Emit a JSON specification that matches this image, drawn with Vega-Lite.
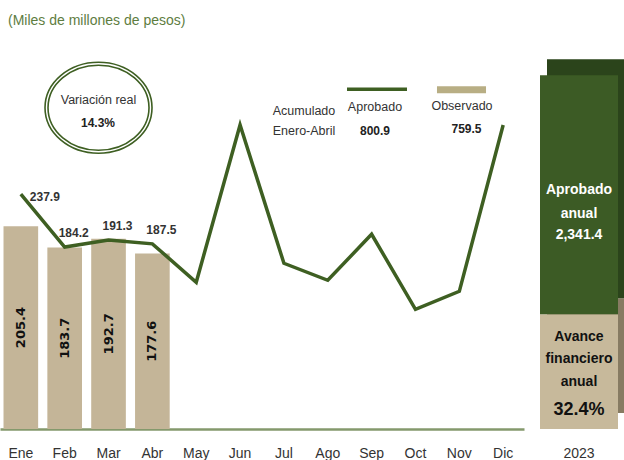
{
  "$schema": "https://vega.github.io/schema/vega-lite/v6.json",
  "padding": {"left": 0, "top": 14, "right": 0, "bottom": 0},
  "background": "white",
  "config": {
    "view": {"stroke": null},
    "font": "Liberation Sans",
    "text": {"font": "Liberation Sans"},
    "axis": {"labelFont": "Liberation Sans"}
  },
  "title": {
    "text": "(Miles de millones de pesos)",
    "anchor": "start",
    "fontSize": 14,
    "fontWeight": "normal",
    "font": "Liberation Sans",
    "color": "#5e7d3f",
    "offset": 3,
    "dx": 8
  },
  "datasets": {
    "meses": [
      {"mes": "Ene", "aprobado": 237.9, "observado": 205.4},
      {"mes": "Feb", "aprobado": 184.2, "observado": 183.7},
      {"mes": "Mar", "aprobado": 191.3, "observado": 192.7},
      {"mes": "Abr", "aprobado": 187.5, "observado": 177.6},
      {"mes": "May", "aprobado": 148.6, "observado": null},
      {"mes": "Jun", "aprobado": 307.9, "observado": null},
      {"mes": "Jul", "aprobado": 167.8, "observado": null},
      {"mes": "Ago", "aprobado": 150.6, "observado": null},
      {"mes": "Sep", "aprobado": 197.2, "observado": null},
      {"mes": "Oct", "aprobado": 121.2, "observado": null},
      {"mes": "Nov", "aprobado": 139.4, "observado": null},
      {"mes": "Dic", "aprobado": 307.8, "observado": null}
    ],
    "anotaciones": [
      {"texto": "Variación real", "tipo": "etiqueta", "x": 1.771, "y": 332.9},
      {"texto": "14.3%", "tipo": "valor", "x": 1.759, "y": 310.1},
      {"texto": "Acumulado", "tipo": "etiqueta", "x": 6.457, "y": 321.7},
      {"texto": "Enero-Abril", "tipo": "etiqueta", "x": 6.457, "y": 302.0},
      {"texto": "Aprobado", "tipo": "etiqueta", "x": 8.076, "y": 326.3},
      {"texto": "800.9", "tipo": "valor", "x": 8.076, "y": 301.5},
      {"texto": "Observado", "tipo": "etiqueta", "x": 10.06, "y": 326.8},
      {"texto": "759.5", "tipo": "valor", "x": 10.163, "y": 303.5}
    ],
    "elipse": [{"x": 1.771, "y": 325.3}],
    "leyenda": [
      {"serie": "Aprobado", "x1": 7.438, "x2": 8.806, "y": 344.0},
      {"serie": "Observado", "x1": 9.49, "x2": 10.608, "y": 343.5}
    ],
    "anual": [
      {"anio": "2023", "tipo": "Avance", "valor": 759.5},
      {"anio": "2023", "tipo": "Resto", "valor": 1581.9}
    ],
    "textos_anual": [
      {"anio": "2023", "segmento": "aprobado", "texto": "Aprobado", "y": 1583.5},
      {"anio": "2023", "segmento": "aprobado", "texto": "anual", "y": 1424.6},
      {"anio": "2023", "segmento": "aprobado", "texto": "2,341.4", "y": 1282.3},
      {"anio": "2023", "segmento": "avance", "texto": "Avance", "y": 607.0},
      {"anio": "2023", "segmento": "avance", "texto": "financiero", "y": 461.4},
      {"anio": "2023", "segmento": "avance", "texto": "anual", "y": 309.2},
      {"anio": "2023", "segmento": "porcentaje", "texto": "32.4%", "y": 123.8}
    ]
  },
  "hconcat": [
    {
      "width": 524,
      "height": 398,
      "resolve": {"scale": {"x": "independent", "y": "independent", "color": "independent", "strokeWidth": "independent"}, "axis": {"x": "independent", "y": "independent"}},
      "layer": [
        {
          "data": {"name": "meses"},
          "transform": [{"filter": "isValid(datum.observado)"}],
          "mark": {"type": "bar", "color": "#c4b598"},
          "encoding": {
            "x": {"field": "mes", "type": "nominal", "sort": null,
                  "scale": {"type": "band", "domain": ["Ene","Feb","Mar","Abr","May","Jun","Jul","Ago","Sep","Oct","Nov","Dic"], "paddingInner": 0.21, "paddingOuter": 0.08},
                  "axis": {"title": null, "labelAngle": 0, "labelFontSize": 14, "labelColor": "#333333", "ticks": false, "tickSize": 0, "labelPadding": 17, "domainColor": "#84996c", "domainWidth": 2.5, "grid": false}},
            "y": {"field": "observado", "type": "quantitative", "scale": {"domain": [0, 403], "nice": false}, "axis": null}
          }
        },
        {
          "data": {"name": "meses"},
          "mark": {"type": "line", "color": "#3e5f22", "strokeWidth": 3.5, "strokeJoin": "miter"},
          "encoding": {
            "x": {"field": "mes", "type": "nominal", "sort": null,
                  "scale": {"type": "band", "domain": ["Ene","Feb","Mar","Abr","May","Jun","Jul","Ago","Sep","Oct","Nov","Dic"], "paddingInner": 0.21, "paddingOuter": 0.08}, "axis": null},
            "y": {"field": "aprobado", "type": "quantitative", "scale": {"domain": [0, 403], "nice": false}, "axis": null}
          }
        },
        {
          "data": {"name": "meses"},
          "transform": [{"filter": "datum.mes == 'Ene'"}],
          "mark": {"type": "text", "align": "left", "baseline": "middle", "dx": 9, "dy": 3, "fontSize": 12, "fontWeight": "bold", "color": "#333333"},
          "encoding": {
            "x": {"field": "mes", "type": "nominal", "sort": null,
                  "scale": {"type": "band", "domain": ["Ene","Feb","Mar","Abr","May","Jun","Jul","Ago","Sep","Oct","Nov","Dic"], "paddingInner": 0.21, "paddingOuter": 0.08}, "axis": null},
            "y": {"field": "aprobado", "type": "quantitative", "scale": {"domain": [0, 403], "nice": false}, "axis": null},
            "text": {"field": "aprobado", "type": "quantitative", "format": ".1f"}
          }
        },
        {
          "data": {"name": "meses"},
          "transform": [{"filter": "datum.mes == 'Feb' || datum.mes == 'Mar' || datum.mes == 'Abr'"}],
          "mark": {"type": "text", "align": "center", "baseline": "middle", "dx": 9, "dy": -14, "fontSize": 12, "fontWeight": "bold", "color": "#333333"},
          "encoding": {
            "x": {"field": "mes", "type": "nominal", "sort": null,
                  "scale": {"type": "band", "domain": ["Ene","Feb","Mar","Abr","May","Jun","Jul","Ago","Sep","Oct","Nov","Dic"], "paddingInner": 0.21, "paddingOuter": 0.08}, "axis": null},
            "y": {"field": "aprobado", "type": "quantitative", "scale": {"domain": [0, 403], "nice": false}, "axis": null},
            "text": {"field": "aprobado", "type": "quantitative", "format": ".1f"}
          }
        },
        {
          "data": {"name": "meses"},
          "transform": [{"filter": "isValid(datum.observado)"}],
          "mark": {"type": "text", "angle": 270, "align": "center", "baseline": "middle", "fontSize": 13, "fontWeight": "bold", "font": "DejaVu Sans", "color": "#111111"},
          "encoding": {
            "x": {"field": "mes", "type": "nominal", "sort": null,
                  "scale": {"type": "band", "domain": ["Ene","Feb","Mar","Abr","May","Jun","Jul","Ago","Sep","Oct","Nov","Dic"], "paddingInner": 0.21, "paddingOuter": 0.08}, "axis": null},
            "y": {"field": "observado", "type": "quantitative", "scale": {"domain": [0, 806], "nice": false}, "axis": null},
            "text": {"field": "observado", "type": "quantitative", "format": ".1f"}
          }
        },
        {
          "data": {"name": "elipse"},
          "mark": {"type": "point", "shape": "M-1,0A1,0.85,0,1,0,1,0A1,0.85,0,1,0,-1,0Z", "size": 11449, "filled": false, "color": "#3e5f22", "strokeWidth": 1.6, "opacity": 1},
          "encoding": {
            "x": {"field": "x", "type": "quantitative", "scale": {"domain": [-0.4755, 11.4743], "nice": false, "zero": false}, "axis": null},
            "y": {"field": "y", "type": "quantitative", "scale": {"domain": [0, 403], "nice": false}, "axis": null}
          }
        },
        {
          "data": {"name": "elipse"},
          "mark": {"type": "point", "shape": "M-1,0A1,0.842,0,1,0,1,0A1,0.842,0,1,0,-1,0Z", "size": 10201, "filled": false, "color": "#3e5f22", "strokeWidth": 1.6, "opacity": 1},
          "encoding": {
            "x": {"field": "x", "type": "quantitative", "scale": {"domain": [-0.4755, 11.4743], "nice": false, "zero": false}, "axis": null},
            "y": {"field": "y", "type": "quantitative", "scale": {"domain": [0, 403], "nice": false}, "axis": null}
          }
        },
        {
          "data": {"name": "anotaciones"},
          "transform": [{"filter": "datum.tipo == 'etiqueta'"}],
          "mark": {"type": "text", "align": "center", "baseline": "middle", "fontSize": 12.5, "color": "#333333"},
          "encoding": {
            "x": {"field": "x", "type": "quantitative", "scale": {"domain": [-0.4755, 11.4743], "nice": false, "zero": false}, "axis": null},
            "y": {"field": "y", "type": "quantitative", "scale": {"domain": [0, 403], "nice": false}, "axis": null},
            "text": {"field": "texto"}
          }
        },
        {
          "data": {"name": "anotaciones"},
          "transform": [{"filter": "datum.tipo == 'valor'"}],
          "mark": {"type": "text", "align": "center", "baseline": "middle", "fontSize": 12, "fontWeight": "bold", "color": "#222222"},
          "encoding": {
            "x": {"field": "x", "type": "quantitative", "scale": {"domain": [-0.4755, 11.4743], "nice": false, "zero": false}, "axis": null},
            "y": {"field": "y", "type": "quantitative", "scale": {"domain": [0, 403], "nice": false}, "axis": null},
            "text": {"field": "texto"}
          }
        },
        {
          "data": {"name": "leyenda"},
          "mark": {"type": "rule", "strokeCap": "butt"},
          "encoding": {
            "x": {"field": "x1", "type": "quantitative", "scale": {"domain": [-0.4755, 11.4743], "nice": false, "zero": false}, "axis": null},
            "x2": {"field": "x2"},
            "y": {"field": "y", "type": "quantitative", "scale": {"domain": [0, 403], "nice": false}, "axis": null},
            "color": {"field": "serie", "type": "nominal", "scale": {"domain": ["Aprobado", "Observado"], "range": ["#3e5f22", "#b8ae84"]}, "legend": null},
            "strokeWidth": {"field": "serie", "type": "nominal", "scale": {"domain": ["Aprobado", "Observado"], "range": [3.5, 7]}, "legend": null}
          }
        }
      ]
    },
    {
      "width": 78,
      "height": 398,
      "resolve": {"scale": {"color": "independent", "y": "independent"}, "axis": {"y": "independent"}},
      "layer": [
        {
          "data": {"name": "anual"},
          "mark": {"type": "bar", "xOffset": 7, "yOffset": -16},
          "encoding": {
            "x": {"field": "anio", "type": "nominal", "scale": {"paddingInner": 0, "paddingOuter": 0}, "axis": {"title": null, "labelAngle": 0, "labelFontSize": 14, "labelColor": "#333333", "ticks": false, "tickSize": 0, "labelPadding": 17, "domain": false, "grid": false}},
            "y": {"field": "valor", "type": "quantitative", "stack": "zero", "scale": {"domain": [0, 2634.7], "nice": false}, "axis": null},
            "color": {"field": "tipo", "type": "nominal", "scale": {"domain": ["Avance", "Resto"], "range": ["#877b62", "#2b441b"]}, "legend": null},
            "order": {"field": "tipo", "type": "nominal", "sort": "ascending"}
          }
        },
        {
          "data": {"name": "anual"},
          "mark": {"type": "bar"},
          "encoding": {
            "x": {"field": "anio", "type": "nominal", "scale": {"paddingInner": 0, "paddingOuter": 0}},
            "y": {"field": "valor", "type": "quantitative", "stack": "zero", "scale": {"domain": [0, 2634.7], "nice": false}, "axis": null},
            "color": {"field": "tipo", "type": "nominal", "scale": {"domain": ["Avance", "Resto"], "range": ["#c7b99b", "#3c5b25"]}, "legend": null},
            "order": {"field": "tipo", "type": "nominal", "sort": "ascending"}
          }
        },
        {
          "data": {"name": "textos_anual"},
          "transform": [{"filter": "datum.segmento == 'aprobado'"}],
          "mark": {"type": "text", "align": "center", "baseline": "middle", "fontSize": 14, "fontWeight": "bold", "color": "#ffffff"},
          "encoding": {
            "x": {"field": "anio", "type": "nominal"},
            "y": {"field": "y", "type": "quantitative", "scale": {"domain": [0, 2634.7], "nice": false}, "axis": null},
            "text": {"field": "texto"}
          }
        },
        {
          "data": {"name": "textos_anual"},
          "transform": [{"filter": "datum.segmento == 'avance'"}],
          "mark": {"type": "text", "align": "center", "baseline": "middle", "fontSize": 14, "fontWeight": "bold", "color": "#111111"},
          "encoding": {
            "x": {"field": "anio", "type": "nominal"},
            "y": {"field": "y", "type": "quantitative", "scale": {"domain": [0, 2634.7], "nice": false}, "axis": null},
            "text": {"field": "texto"}
          }
        },
        {
          "data": {"name": "textos_anual"},
          "transform": [{"filter": "datum.segmento == 'porcentaje'"}],
          "mark": {"type": "text", "align": "center", "baseline": "middle", "fontSize": 18, "fontWeight": "bold", "color": "#111111"},
          "encoding": {
            "x": {"field": "anio", "type": "nominal"},
            "y": {"field": "y", "type": "quantitative", "scale": {"domain": [0, 2634.7], "nice": false}, "axis": null},
            "text": {"field": "texto"}
          }
        }
      ]
    }
  ],
  "spacing": 16
}
